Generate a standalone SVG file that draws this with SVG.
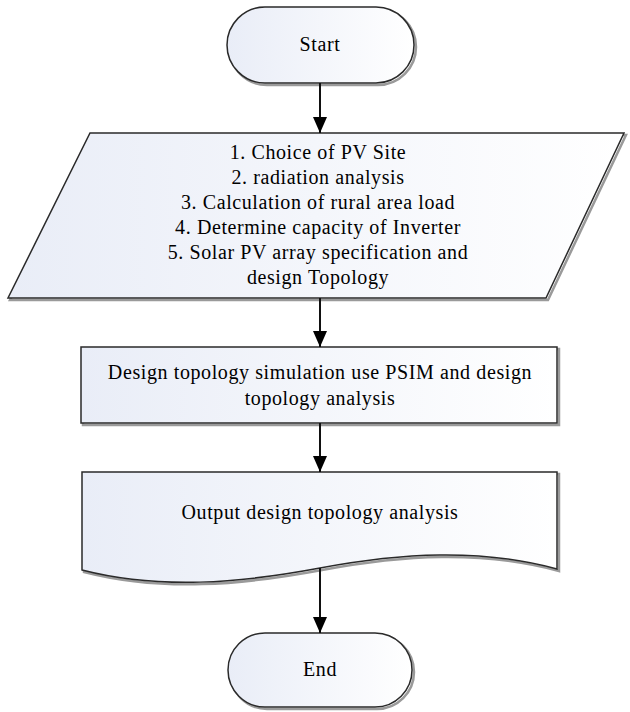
<svg xmlns="http://www.w3.org/2000/svg" width="630" height="712" viewBox="0 0 630 712">
<defs>
<linearGradient id="fillg" x1="0" y1="0" x2="1" y2="0">
<stop offset="0" stop-color="#e9edf7"/>
<stop offset="1" stop-color="#ffffff"/>
</linearGradient>
<marker id="arr" markerWidth="16" markerHeight="14" refX="16" refY="7" orient="auto" markerUnits="userSpaceOnUse" viewBox="0 0 16 14">
<path d="M0,0 L16,7 L0,14 Z" fill="#000"/>
</marker>
<style>
.shape{fill:url(#fillg);stroke:#2a2a2a;stroke-width:1.5}
.shadow{fill:none;stroke:#9a9a9a;stroke-width:2.5}
.lbl{font-family:'Liberation Serif','DejaVu Serif','Times New Roman',serif;font-size:20px;letter-spacing:0.6px;fill:#000;text-anchor:middle}
.conn{stroke:#111;stroke-width:2;fill:none}
</style>
</defs>
<rect width="630" height="712" fill="#fff"/>

<g id="start">
<rect class="shadow" x="229" y="9" width="187" height="76" rx="38" ry="38"/>
<rect class="shape" x="227" y="7" width="187" height="76" rx="38" ry="38"/>
<text class="lbl" x="320" y="51">Start</text>
</g>

<g id="input">
<path class="shadow" d="M92,135 L626,135 L548,300 L10,300 Z"/>
<path class="shape" d="M90,133 L624,133 L546,298 L8,298 Z"/>
<text class="lbl" x="318" y="159">1. Choice of PV Site</text>
<text class="lbl" x="318" y="184">2. radiation analysis</text>
<text class="lbl" x="318" y="209">3. Calculation of rural area load</text>
<text class="lbl" x="318" y="234">4. Determine capacity of Inverter</text>
<text class="lbl" x="318" y="259">5. Solar PV array specification and</text>
<text class="lbl" x="318" y="284">design Topology</text>
</g>

<g id="process">
<rect class="shadow" x="83" y="349" width="476" height="76"/>
<rect class="shape" x="81" y="347" width="476" height="76"/>
<text class="lbl" x="320" y="379">Design topology simulation use PSIM and design</text>
<text class="lbl" x="320" y="405">topology analysis</text>
</g>

<g id="output">
<path class="shadow" d="M84,474 L559,474 L559,571 C482,550 402,555 322,570 C242,585 162,592 84,572 Z"/>
<path class="shape" d="M82,472 L557,472 L557,569 C480,548 400,553 320,568 C240,583 160,590 82,570 Z"/>
<text class="lbl" x="320" y="519">Output design topology analysis</text>
</g>

<g id="end">
<rect class="shadow" x="230" y="635" width="184" height="74" rx="37" ry="37"/>
<rect class="shape" x="228" y="633" width="184" height="74" rx="37" ry="37"/>
<text class="lbl" x="320" y="676">End</text>
</g>

<g id="connectors">
<line class="conn" x1="320" y1="83" x2="320" y2="133" marker-end="url(#arr)"/>
<line class="conn" x1="320" y1="298" x2="320" y2="347" marker-end="url(#arr)"/>
<line class="conn" x1="320" y1="423" x2="320" y2="472" marker-end="url(#arr)"/>
<line class="conn" x1="320" y1="568" x2="320" y2="633" marker-end="url(#arr)"/>
</g>
</svg>
